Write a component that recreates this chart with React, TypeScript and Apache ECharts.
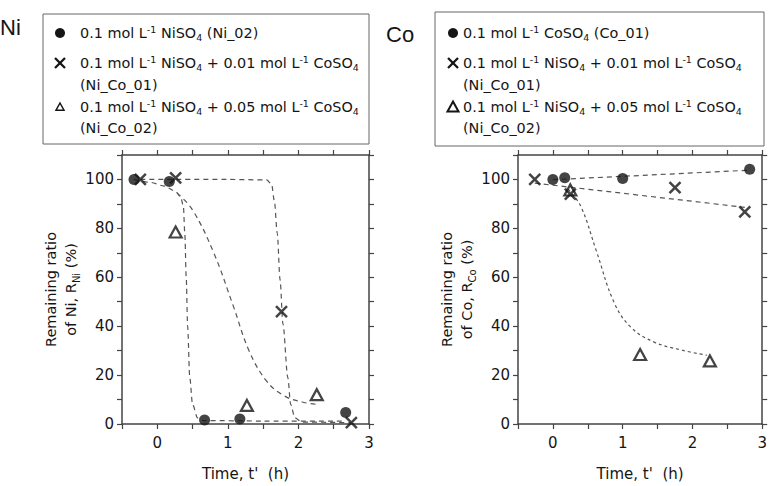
import React, { useEffect, useRef } from "react";
import * as echarts from "echarts";

const FONT = "DejaVu Sans, Liberation Sans, Arial, sans-serif";
const INK = "#151515";
const AXIS = "#444";
const FIT = "#555";

// ---- Ni panel (x: time t' in h, y: remaining ratio %) ----
const niCircle = [[-0.33, 100], [0.17, 99.2], [0.67, 1.6], [1.17, 2.0], [2.67, 4.7]];
const niCross = [[-0.24, 100], [0.26, 100.6], [1.76, 46], [2.75, 0.6]];
const niTri = [[0.26, 78.5], [1.27, 7.6], [2.26, 12]];

const niCircleFit = [[-0.33, 100], [-0.1, 98.8], [0.1, 97.3], [0.25, 95.3], [0.33, 93], [0.37, 89], [0.39, 78], [0.41, 60], [0.43, 40], [0.46, 19], [0.5, 8], [0.57, 2.5], [0.66, 1.4], [1.5, 1.2], [2.65, 1.2]];
const niCrossFit = [[-0.24, 100], [0.3, 100], [1.0, 100], [1.55, 99.8], [1.62, 98], [1.66, 91], [1.7, 78], [1.74, 59], [1.78, 41], [1.85, 19], [1.89, 8], [1.95, 2.5], [2.05, 0.8], [2.75, 0.5]];
const niTriFit = [[0.28, 94.5], [0.5, 87.5], [0.8, 70], [1.08, 48], [1.3, 30], [1.55, 17.5], [1.8, 11.5], [2.05, 9], [2.27, 8]];

// ---- Co panel ----
const coCircle = [[0, 100], [0.17, 100.7], [1.0, 100.4], [2.82, 104.2]];
const coCross = [[-0.26, 100], [0.25, 94], [1.75, 96.7], [2.75, 86.7]];
const coTri = [[0.25, 95.7], [1.25, 28.4], [2.25, 25.8]];

const coCircleFit = [[0, 99.9], [2.82, 103.8]];
const coCrossFit = [[-0.26, 98.5], [2.75, 88.6]];
const coTriFit = [[0.22, 96], [0.4, 89], [0.62, 71], [0.88, 49.5], [1.12, 39.5], [1.45, 33.5], [1.85, 30.2], [2.21, 28.1]];

const xTicks = { min: -0.5, max: 3, interval: 0.5 };
const yTicks = { min: 0, max: 110, interval: 10 };

const niLegend = [
  "0.1 mol L{sup|-1} NiSO{sub|4} (Ni_02)",
  "0.1 mol L{sup|-1} NiSO{sub|4} + 0.01 mol L{sup|-1} CoSO{sub|4}",
  "(Ni_Co_01)",
  "0.1 mol L{sup|-1} NiSO{sub|4} + 0.05 mol L{sup|-1} CoSO{sub|4}",
  "(Ni_Co_02)",
];
const coLegend = [
  "0.1 mol L{sup|-1} CoSO{sub|4} (Co_01)",
  "0.1 mol L{sup|-1} NiSO{sub|4} + 0.01 mol L{sup|-1} CoSO{sub|4}",
  "(Ni_Co_01)",
  "0.1 mol L{sup|-1} NiSO{sub|4} + 0.05 mol L{sup|-1} CoSO{sub|4}",
  "(Ni_Co_02)",
];

const CROSS = "path://M0,0L10,10M10,0L0,10";

const rich = {
  sup: { fontSize: 9.5, fontFamily: FONT, fill: INK, color: INK, verticalAlign: "top", lineHeight: 18 },
  sub: { fontSize: 9.5, fontFamily: FONT, fill: INK, color: INK, verticalAlign: "bottom", lineHeight: 18 },
};

function xAxes(gridIndex: number) {
  const common = {
    type: "value",
    gridIndex,
    ...xTicks,
    splitLine: { show: false },
    axisLine: { onZero: false, lineStyle: { color: AXIS, width: 1.5 } },
    axisTick: { length: 5, lineStyle: { color: AXIS, width: 1.2 } },
  };
  return [
    {
      ...common,
      position: "bottom",
      name: "Time, t'  (h)",
      nameLocation: "middle",
      nameGap: 42,
      nameTextStyle: { fontSize: 15, fontFamily: FONT, color: INK },
      axisLabel: {
        fontSize: 15,
        fontFamily: FONT,
        color: INK,
        margin: 11,
        formatter: (v: number) => (Number.isInteger(v) ? String(v) : ""),
      },
    },
    { ...common, position: "top", axisLabel: { show: false } },
  ];
}

function yAxes(gridIndex: number, elem: string) {
  const common = {
    type: "value",
    gridIndex,
    ...yTicks,
    splitLine: { show: false },
    axisLine: { onZero: false, lineStyle: { color: AXIS, width: 1.5 } },
    axisTick: { length: 5, lineStyle: { color: AXIS, width: 1.2 } },
  };
  return [
    {
      ...common,
      position: "left",
      name: `Remaining ratio\nof ${elem}, R{sub|${elem}} (%)`,
      nameLocation: "middle",
      nameGap: 40,
      nameRotate: 90,
      nameTextStyle: { fontSize: 14.5, fontFamily: FONT, color: INK, lineHeight: 20, rich: { sub: { fontSize: 10, fontFamily: FONT, color: INK, verticalAlign: "bottom", lineHeight: 20 } } },
      axisLabel: {
        fontSize: 15,
        fontFamily: FONT,
        color: INK,
        margin: 8,
        formatter: (v: number) => (v % 20 === 0 && v <= 100 ? String(v) : ""),
      },
    },
    { ...common, position: "right", axisLabel: { show: false } },
  ];
}

function fit(data: number[][], xi: number, yi: number, dash: number[], smooth: number | boolean, mono?: string) {
  const s: any = {
    type: "line",
    data,
    xAxisIndex: xi,
    yAxisIndex: yi,
    showSymbol: false,
    symbol: "none",
    smooth,
    silent: true,
    z: 2,
    lineStyle: { color: FIT, width: 1.2, type: dash },
  };
  if (mono) s.smoothMonotone = mono;
  return s;
}

function scatter(data: number[][], xi: number, yi: number, kind: string) {
  const base: any = { type: "scatter", data, xAxisIndex: xi, yAxisIndex: yi, z: 5 };
  if (kind === "circle") {
    return { ...base, symbol: "circle", symbolSize: 11, itemStyle: { color: INK } };
  }
  if (kind === "cross") {
    return { ...base, symbol: CROSS, symbolSize: 11, itemStyle: { color: "rgba(0,0,0,0)", borderColor: INK, borderWidth: 2.5 } };
  }
  return { ...base, symbol: "triangle", symbolSize: [12, 11], itemStyle: { color: "rgba(0,0,0,0)", borderColor: INK, borderWidth: 2.2 } };
}

function legendBox(x: number, y: number, w: number, h: number, lines: string[], symX: number, textX: number, triSize: number, triWidth: number) {
  const ys = [33, 63, 85, 107, 128];
  const els: any[] = [
    { type: "rect", shape: { x, y, width: w, height: h }, style: { fill: "#fff", stroke: "#666", lineWidth: 1 }, z: 10 },
  ];
  lines.forEach((t, i) => {
    els.push({
      type: "text",
      x: textX,
      y: ys[i],
      z: 11,
      style: { text: t, fontSize: 14.4, fontFamily: FONT, fill: INK, verticalAlign: "middle", align: "left", lineHeight: 18, rich },
    });
  });
  els.push({ type: "circle", shape: { cx: symX, cy: ys[0], r: 5 }, style: { fill: INK }, z: 11 });
  const c = 5;
  els.push({ type: "line", shape: { x1: symX - c, y1: ys[1] - c, x2: symX + c, y2: ys[1] + c }, style: { stroke: INK, lineWidth: 2.3 }, z: 11 });
  els.push({ type: "line", shape: { x1: symX - c, y1: ys[1] + c, x2: symX + c, y2: ys[1] - c }, style: { stroke: INK, lineWidth: 2.3 }, z: 11 });
  const s = triSize / 2;
  els.push({
    type: "polygon",
    shape: { points: [[symX, ys[3] - s], [symX + s, ys[3] + s * 0.8], [symX - s, ys[3] + s * 0.8]] },
    style: { fill: "none", stroke: INK, lineWidth: triWidth },
    z: 11,
  });
  return els;
}

export default function App() {
  const ref = useRef<HTMLDivElement>(null);
  useEffect(() => {
    if (!ref.current) return;
    const chart = echarts.init(ref.current, undefined, { renderer: "svg" });
    const option: any = {
      animation: false,
      backgroundColor: "#fff",
      textStyle: { fontFamily: FONT },
      grid: [
        { left: 122, top: 155, width: 247, height: 275 },
        { left: 518, top: 155, width: 245, height: 275 },
      ],
      xAxis: [...xAxes(0), ...xAxes(1)],
      yAxis: [...yAxes(0, "Ni"), ...yAxes(1, "Co")],
      series: [
        fit(niCircleFit, 0, 0, [5, 4], 0.3, "x"),
        fit(niCrossFit, 0, 0, [5, 4], 0.3, "x"),
        fit(niTriFit, 0, 0, [5, 4], 0.4),
        scatter(niCircle, 0, 0, "circle"),
        scatter(niCross, 0, 0, "cross"),
        scatter(niTri, 0, 0, "tri"),
        fit(coCircleFit, 2, 2, [5, 4], false),
        fit(coCrossFit, 2, 2, [5, 4], false),
        fit(coTriFit, 2, 2, [3, 3], 0.4),
        scatter(coCircle, 2, 2, "circle"),
        scatter(coCross, 2, 2, "cross"),
        scatter(coTri, 2, 2, "tri"),
      ],
      graphic: [
        { type: "text", x: 0, y: 27, style: { text: "Ni", fontSize: 22, fontFamily: "Liberation Sans, Arial, sans-serif", fill: INK, verticalAlign: "middle" } },
        { type: "text", x: 386, y: 34, style: { text: "Co", fontSize: 22, fontFamily: "Liberation Sans, Arial, sans-serif", fill: INK, verticalAlign: "middle" } },
        ...legendBox(43, 14, 326, 130, niLegend, 60, 80, 8, 1.5),
        ...legendBox(435, 12, 329, 134, coLegend, 453, 463, 11, 2),
      ],
    };
    chart.setOption(option);
    return () => chart.dispose();
  }, []);
  return <div ref={ref} style={{ position: "absolute", left: 0, top: 0, width: 770, height: 486 }} />;
}
